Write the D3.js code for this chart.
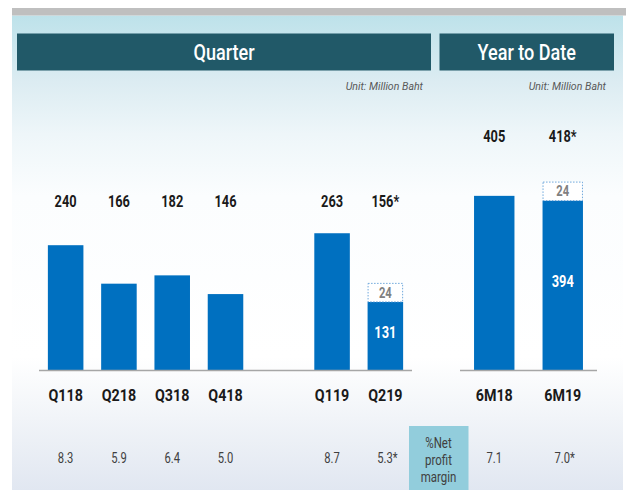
<!DOCTYPE html>
<html><head><meta charset="utf-8">
<script src="https://cdn.jsdelivr.net/npm/d3@7"></script>
<style>
html,body{margin:0;padding:0;background:#fff;}
svg{display:block;}
text{font-family:Roboto,'DejaVu Sans',sans-serif;}
</style></head><body>
<svg id="chart" width="626" height="490"></svg>
<script>
// ---- data ----
const quarterCats = ["Q118","Q218","Q318","Q418","","Q119","Q219"];
const quarterSolid = [240,166,182,146,null,263,131];
const quarterExtra = [0,0,0,0,null,0,24];
const quarterTotalLabels = ["240","166","182","146","","263","156*"];
const quarterMargins = ["8.3","5.9","6.4","5.0","","8.7","5.3*"];

const ytdCats = ["6M18","6M19"];
const ytdSolid = [405,394];
const ytdExtra = [0,24];
const ytdTotalLabels = ["405","418*"];
const ytdMargins = ["7.1","7.0*"];

const headerTitles = ["Quarter","Year to Date"];
const unitText = "Unit: Million Baht";
const marginRowLabel = ["%Net","profit","margin"];

// ---- styles ----
const barColor = "#0070c0";
const svg = d3.select("#chart");
const defs = svg.append("defs");
const g = defs.append("linearGradient").attr("id","bg").attr("x1",0).attr("y1",0).attr("x2",0).attr("y2",1);
[[0,"#bde2ea"],[0.14,"#dcecf2"],[0.25,"#eef6f9"],[0.38,"#fbfdfe"],[0.72,"#ffffff"],[0.85,"#f1f4f8"],[1,"#e1e7f1"]]
  .forEach(([o,c])=>g.append("stop").attr("offset",o).attr("stop-color",c));

function squeeze(sel, f){
  sel.each(function(){
    const w = this.getComputedTextLength();
    d3.select(this).attr("textLength", w*f).attr("lengthAdjust","spacingAndGlyphs");
  });
  return sel;
}

svg.append("rect").attr("x",12).attr("y",15.5).attr("width",611).attr("height",474.5).attr("fill","url(#bg)");
svg.append("rect").attr("x",12).attr("y",8).attr("width",614).attr("height",7.5).attr("fill","#bfbfbf");

// headers
const headers = [{x0:17,x1:431},{x0:439.5,x1:614}];
headers.forEach((h,i)=>{
  svg.append("rect").attr("x",h.x0).attr("y",33.5).attr("width",h.x1-h.x0).attr("height",37).attr("fill","#215968");
  squeeze(svg.append("text").attr("x",(h.x0+h.x1)/2).attr("y",60).attr("text-anchor","middle")
    .attr("fill","#fff").attr("font-size",22).attr("font-weight",500).text(headerTitles[i]), 0.82);
});
[{x:423},{x:606}].forEach(u=>{
  squeeze(svg.append("text").attr("x",u.x).attr("y",90).attr("text-anchor","end").attr("font-style","italic")
    .attr("fill","#595959").attr("font-size",11.5).text(unitText), 0.92);
});

const baseY = 370;
function drawGroup(cats, solid, extra, totals, margins, xr, yScale, bw, totalY){
  const x = d3.scaleBand().domain(d3.range(cats.length)).range(xr).paddingInner(bw).paddingOuter(bw/2);
  const idx = d3.range(cats.length).filter(i=>solid[i]!==null);
  // bars
  svg.append("g").selectAll("rect").data(idx).join("rect")
    .attr("x",i=>x(i)).attr("width",x.bandwidth())
    .attr("y",i=>yScale(solid[i])).attr("height",i=>yScale(0)-yScale(solid[i]))
    .attr("fill",barColor);
  // extra dashed part
  const ex = idx.filter(i=>extra[i]>0);
  ex.forEach(i=>{
    const h = Math.max(yScale(0)-yScale(extra[i]), 18.5);
    const top = yScale(solid[i]) - h;
    svg.append("rect").attr("x",x(i)+0.5).attr("y",top).attr("width",x.bandwidth()-1).attr("height",h)
      .attr("fill","#fff").attr("stroke","#6fa8dc").attr("stroke-width",1).attr("stroke-dasharray","1.5,1.5");
    squeeze(svg.append("text").attr("x",x(i)+x.bandwidth()/2).attr("y",top+h/2+5).attr("text-anchor","middle")
      .attr("font-weight","bold").attr("font-size",14).attr("fill","#808080").text(extra[i]), 0.8);
    squeeze(svg.append("text").attr("x",x(i)+x.bandwidth()/2).attr("y",(yScale(solid[i])+yScale(0))/2+2).attr("text-anchor","middle")
      .attr("font-weight","bold").attr("font-size",16).attr("fill","#fff").text(solid[i]), 0.8);
  });
  // baseline
  svg.append("line").attr("x1",xr[0]).attr("x2",xr[1]).attr("y1",baseY+0.5).attr("y2",baseY+0.5)
    .attr("stroke","#a6a6a6").attr("stroke-width",1.3);
  // totals
  squeeze(svg.append("g").selectAll("text").data(idx).join("text")
    .attr("x",i=>x(i)+x.bandwidth()/2).attr("y",totalY).attr("text-anchor","middle")
    .attr("font-weight","bold").attr("font-size",16).attr("fill","#1a1a1a").text(i=>totals[i]), 0.8);
  // category labels
  squeeze(svg.append("g").selectAll("text").data(idx).join("text")
    .attr("x",i=>x(i)+x.bandwidth()/2).attr("y",401).attr("text-anchor","middle")
    .attr("font-weight","bold").attr("font-size",17).attr("fill","#1a1a1a").text(i=>cats[i]), 0.84);
  // margins
  squeeze(svg.append("g").selectAll("text").data(idx).join("text")
    .attr("x",i=>x(i)+x.bandwidth()/2 + (margins[i].endsWith("*")?2:0)).attr("y",463).attr("text-anchor","middle")
    .attr("font-size",14).attr("fill","#404040").text(i=>margins[i]), 0.8);
}

const yQ = d3.scaleLinear().domain([0,300]).range([baseY, baseY-156]);
const yY = d3.scaleLinear().domain([0,400]).range([baseY, baseY-172]);
drawGroup(quarterCats, quarterSolid, quarterExtra, quarterTotalLabels, quarterMargins, [39,412], yQ, 0.333, 207);
drawGroup(ytdCats, ytdSolid, ytdExtra, ytdTotalLabels, ytdMargins, [460,597], yY, 0.41, 142);

// margin row label box
svg.append("rect").attr("x",409).attr("y",426).attr("width",59.5).attr("height",64).attr("fill","#92cddc");
marginRowLabel.forEach((t,k)=>{
  squeeze(svg.append("text").attr("x",438.5).attr("y",447.5+k*17).attr("text-anchor","middle")
    .attr("font-size",14).attr("fill","#404040").text(t), 0.82);
});
</script>
</body></html>
